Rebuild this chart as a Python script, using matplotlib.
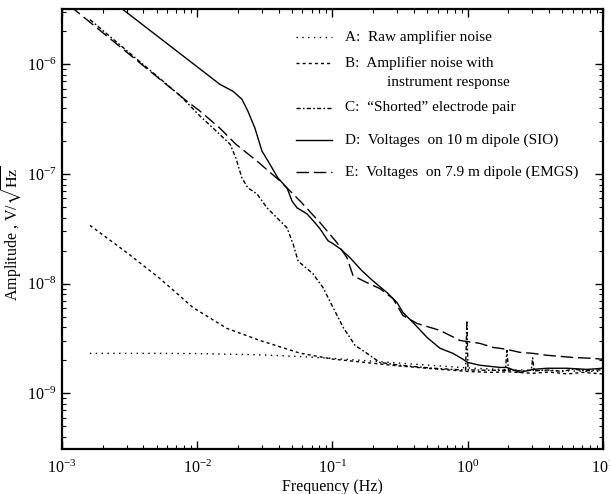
import numpy as np
import matplotlib
matplotlib.use("Agg")
import matplotlib.pyplot as plt

plt.rcParams['font.family'] = ['Liberation Serif', 'DejaVu Serif']
plt.rcParams['mathtext.fontset'] = 'stix'

# A: raw amplifier noise
freq_a = [1.61e-3, 5e-3, 0.01, 0.03, 0.0575, 0.1, 0.2, 0.316, 0.6, 1.0, 2.0, 3.0, 5.0, 10.0]
amp_a = [2.31e-9, 2.31e-9, 2.30e-9, 2.24e-9, 2.16e-9, 2.08e-9, 1.96e-9, 1.88e-9, 1.78e-9, 1.70e-9,
         1.64e-9, 1.62e-9, 1.60e-9, 1.58e-9]

# B: amplifier noise with instrument response
freq_b = [1.61e-3, 3.03e-3, 5.31e-3, 9.3e-3, 0.0166, 0.0291, 0.0575, 0.1, 0.3, 0.6, 1.0, 1.5, 2.0,
          3.0, 4.0, 5.5, 7.0, 10.0]
amp_b = [3.4e-8, 1.91e-8, 1.11e-8, 6.05e-9, 3.9e-9, 3.03e-9, 2.32e-9, 2.05e-9, 1.78e-9, 1.66e-9,
         1.58e-9, 1.55e-9, 1.57e-9, 1.52e-9, 1.56e-9, 1.50e-9, 1.55e-9, 1.50e-9]

# C: "shorted" electrode pair
freq_c = [1.61e-3, 7.45e-3, 0.0105, 0.0131, 0.0175, 0.0193, 0.0214, 0.0237, 0.0277, 0.0328, 0.0389,
          0.0461, 0.0511, 0.0556, 0.0575, 0.0717, 0.0851, 0.101, 0.120, 0.147, 0.180, 0.224, 0.316,
          0.553, 0.93, 0.965, 0.985, 1.005, 1.04, 1.5, 1.9, 1.95, 2.0, 2.6, 2.95, 3.02, 3.1,
          4.0, 5.0, 6.0, 7.5, 10.0]
amp_c = [2.56e-6, 5.2e-7, 3.37e-7, 2.62e-7, 1.87e-7, 1.40e-7, 9.2e-8, 7.46e-8, 6.58e-8, 4.91e-8,
         3.98e-8, 3.23e-8, 2.31e-8, 1.62e-8, 1.55e-8, 1.23e-8, 9.2e-9, 6.05e-9, 3.98e-9, 2.73e-9,
         2.31e-9, 1.91e-9, 1.80e-9, 1.69e-9, 1.63e-9, 1.63e-9, 4.6e-9, 1.63e-9, 1.63e-9, 1.62e-9,
         1.62e-9, 2.46e-9, 1.62e-9, 1.60e-9, 1.62e-9, 2.1e-9, 1.60e-9, 1.63e-9, 1.58e-9, 1.66e-9,
         1.60e-9, 1.64e-9]

# D: voltages on 10 m dipole (SIO)
freq_d = [2.7e-3, 0.0147, 0.0184, 0.0214, 0.0237, 0.0267, 0.0301, 0.0334, 0.0395, 0.0461, 0.0502,
          0.0547, 0.0648, 0.0742, 0.0809, 0.0927, 0.101, 0.114, 0.135, 0.165, 0.199, 0.253, 0.300,
          0.332, 0.394, 0.500, 0.624, 0.778, 0.923, 1.0, 1.23, 1.73, 1.95, 2.43, 3.04, 3.85, 5.42,
          7.62, 10.0]
amp_d = [3.3e-6, 6.58e-7, 5.68e-7, 4.81e-7, 3.74e-7, 2.62e-7, 1.62e-7, 1.31e-7, 9.2e-8, 7.46e-8,
         5.68e-8, 4.91e-8, 4.33e-8, 3.59e-8, 3.16e-8, 2.46e-8, 2.31e-8, 2.08e-8, 1.72e-8, 1.31e-8,
         1.06e-8, 8.28e-9, 6.72e-9, 5.45e-9, 4.42e-9, 3.23e-9, 2.57e-9, 2.31e-9, 2.04e-9, 1.91e-9,
         1.80e-9, 1.72e-9, 1.72e-9, 1.55e-9, 1.65e-9, 1.69e-9, 1.69e-9, 1.65e-9, 1.69e-9]

# E: voltages on 7.9 m dipole (EMGS)
freq_e = [1.15e-3, 8.39e-3, 0.0105, 0.0147, 0.0193, 0.0277, 0.0409, 0.0575, 0.0809, 0.108, 0.128,
          0.142, 0.180, 0.224, 0.280, 0.332, 0.422, 0.624, 0.877, 1.23, 1.53, 1.73, 1.95, 2.43,
          3.04, 3.85, 4.81, 6.0, 8.44, 10.0]
amp_e = [3.4e-6, 4.61e-7, 3.74e-7, 2.62e-7, 1.87e-7, 1.31e-7, 8.64e-8, 5.68e-8, 3.6e-8, 2.36e-8,
         1.72e-8, 1.18e-8, 1.02e-8, 9.01e-9, 7.31e-9, 5.12e-9, 4.33e-9, 3.74e-9, 3.03e-9, 2.85e-9,
         2.62e-9, 2.57e-9, 2.51e-9, 2.36e-9, 2.31e-9, 2.22e-9, 2.17e-9, 2.12e-9, 2.08e-9, 2.04e-9]

styles = {
    'A': (0, (1, 3.2)),
    'B': (0, (2.2, 2.2)),
    'C': (0, (3, 1.6, 1.2, 1.6)),
    'D': '-',
    'E': (0, (9, 3.5)),
}

fig = plt.figure(figsize=(6.1, 4.94), dpi=100)
ax = fig.add_axes([0.1016, 0.0911, 0.8869, 0.8907])

lw = 1.0
ax.plot(freq_a, amp_a, color='k', lw=lw, ls=styles['A'])
ax.plot(freq_b, amp_b, color='k', lw=lw, ls=styles['B'])
ax.plot(freq_c, amp_c, color='k', lw=lw, ls=styles['C'])
ax.plot(freq_d, amp_d, color='k', lw=lw, ls=styles['D'])
ax.plot(freq_e, amp_e, color='k', lw=lw, ls=styles['E'])

ax.set_xscale('log')
ax.set_yscale('log')
ax.set_xlim(1e-3, 10)
ax.set_ylim(3.1e-10, 3.2e-6)

for s in ax.spines.values():
    s.set_linewidth(1.6)
ax.tick_params(which='both', direction='in', top=True, right=True, labelsize=11.5)
ax.tick_params(which='major', length=6, width=1.0)
ax.tick_params(which='minor', length=3, width=0.8)
ax.tick_params(axis='x', which='major', pad=8)
ax.tick_params(axis='y', which='major', pad=4)

ax.set_xlabel('Frequency (Hz)', fontsize=11.5, labelpad=1)
ax.set_ylabel(r'Amplitude , V/$\sqrt{\mathrm{Hz}}$', fontsize=11.5)
ax.yaxis.set_label_coords(-0.071, 0.49)

# legend drawn by hand
legend_rows = [
    ('A', 'A:  Raw amplifier noise', 0.936),
    ('B', 'B:  Amplifier noise with', 0.877),
    ('C', 'C:  \u201cShorted\u201d electrode pair', 0.775),
    ('D', 'D:  Voltages  on 10 m dipole (SIO)', 0.702),
    ('E', 'E:  Voltages  on 7.9 m dipole (EMGS)', 0.630),
]
for key, label, yy in legend_rows:
    ax.plot([0.4325, 0.499], [yy, yy], transform=ax.transAxes, color='k', lw=lw, ls=styles[key])
    ax.text(0.523, yy, label, transform=ax.transAxes, fontsize=11, va='center', ha='left')
ax.text(0.6, 0.834, 'instrument response', transform=ax.transAxes, fontsize=11,
        va='center', ha='left')

fig.savefig('out.png', dpi=100)
